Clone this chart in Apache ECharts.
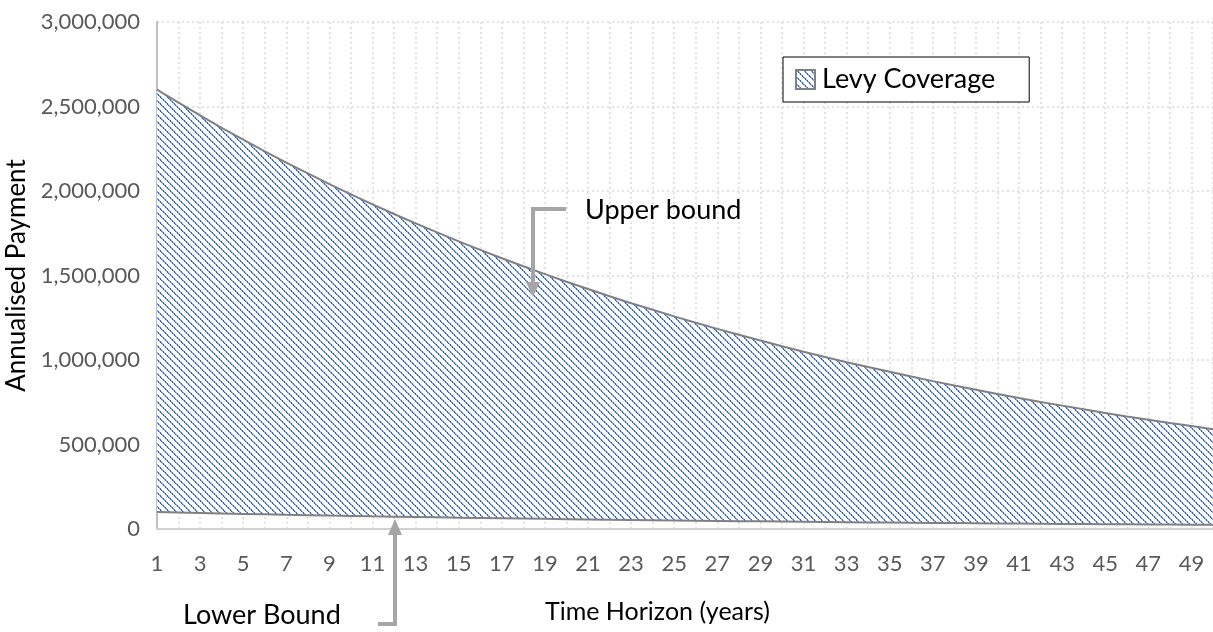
<!DOCTYPE html>
<html>
<head>
<meta charset="utf-8">
<script src="https://cdn.jsdelivr.net/npm/echarts@6/dist/echarts.min.js"></script>
<style>
html,body{margin:0;padding:0;background:#fff;}
#chart{width:1213px;height:632px;}
</style>
</head>
<body>
<div id="chart"></div>
<script>
const categories = ['1','2','3','4','5','6','7','8','9','10','11','12','13','14','15','16','17','18','19','20','21','22','23','24','25','26','27','28','29','30','31','32','33','34','35','36','37','38','39','40','41','42','43','44','45','46','47','48','49','50'];
const upperBound = [2600000,2523000,2447000,2374000,2304000,2235000,2168000,2104000,2041000,1980000,
  1921000,1864000,1808000,1755000,1702000,1652000,1602000,1555000,1508000,1463000,
  1420000,1377000,1336000,1297000,1258000,1220000,1184000,1149000,1115000,1081000,
  1049000,1018000,987000,958000,930000,902000,875000,849000,824000,799000,
  775000,752000,730000,708000,687000,666000,647000,627000,609000,590000];
const lowerBound = [100000,97200,94500,91800,89300,86800,84300,82000,79700,77500,
  75300,73200,71100,69100,67200,65300,63500,61700,60000,58300,
  56700,55100,53500,52000,50600,49200,47800,46500,45200,43900,
  42700,41500,40300,39200,38100,37000,36000,35000,34000,33000,
  32100,31200,30300,29500,28700,27900,27100,26300,25600,24900];
const seriesName = 'Levy Coverage';
const yTicks = {min: 0, max: 3000000, interval: 500000};

// hatch pattern
function makeHatch(){
  const s = 7;
  const c = document.createElement('canvas');
  c.width = s; c.height = s;
  const g = c.getContext('2d');
  g.fillStyle = '#ffffff';
  g.fillRect(0,0,s,s);
  for (let y=0;y<s;y++){
    for (let x=0;x<s;x++){
      const d = ((x - y) % s + s) % s;
      if (d === 0){ g.fillStyle = (y % 2 === 0) ? '#2f62c8' : '#86a4e2'; g.fillRect(x,y,1,1); }
      else if (d === 1){ g.fillStyle = (y % 2 === 0) ? '#8fabe6' : '#3568cc'; g.fillRect(x,y,1,1); }
    }
  }
  return c;
}
const hatch = {image: makeHatch(), repeat: 'repeat'};

const band = upperBound.map((u,i)=>u - lowerBound[i]);
const FONT = 'Lato, "Open Sans", sans-serif';

const chart = echarts.init(document.getElementById('chart'));
chart.setOption({
  animation: false,
  backgroundColor: '#ffffff',
  grid: {left: 157, right: 0, top: 22, bottom: 103, containLabel: false, outerBoundsMode: 'none'},
  legend: {
    show: true,
    left: 783, top: 57,
    padding: [9, 34, 9, 12],
    backgroundColor: '#ffffff',
    borderColor: '#000000', borderWidth: 1, borderRadius: 0,
    itemWidth: 19, itemHeight: 19, itemGap: 8,
    textStyle: {fontFamily: FONT, fontSize: 27, color: '#000000', padding: [0, 0, 0, 2]},
    data: [{name: seriesName, icon: 'rect', itemStyle: {color: hatch, borderColor: '#808080', borderWidth: 2}}]
  },
  xAxis: {
    type: 'category',
    data: categories,
    boundaryGap: false,
    axisLine: {show: true, lineStyle: {color: '#d0d0d0', width: 2}},
    axisTick: {show: false},
    axisLabel: {interval: 1, color: '#595959', fontFamily: FONT, fontSize: 22, margin: 24},
    splitLine: {show: true, interval: 0, lineStyle: {color: '#d9d9d9', type: [2, 3], width: 1.5}}
  },
  yAxis: {
    type: 'value',
    min: yTicks.min, max: yTicks.max, interval: yTicks.interval,
    name: 'Annualised Payment',
    nameLocation: 'middle',
    nameGap: 120,
    nameTextStyle: {fontFamily: FONT, fontSize: 26, color: '#000000'},
    axisLine: {show: true, lineStyle: {color: '#bfbfbf', width: 2}},
    axisTick: {show: false},
    axisLabel: {color: '#595959', fontFamily: FONT, fontSize: 22, margin: 17,
      formatter: v => v.toLocaleString('en-US')},
    splitLine: {show: true, lineStyle: {color: '#d9d9d9', type: [2, 3], width: 1.5}}
  },
  series: [
    {
      name: 'Lower Bound', type: 'line', stack: 'band', data: lowerBound,
      symbol: 'none', z: 4,
      lineStyle: {color: '#808080', width: 2},
      itemStyle: {color: '#808080'}
    },
    {
      name: seriesName, type: 'line', stack: 'band', data: band,
      symbol: 'none', z: 3,
      lineStyle: {color: '#808080', width: 2},
      itemStyle: {color: '#4472c4'},
      areaStyle: {color: hatch, opacity: 1}
    }
  ],
  graphic: [
    {type: 'polyline', shape: {points: [[566,209],[533,209],[533,284]]}, style: {stroke: '#a6a6a6', lineWidth: 4, fill: null}, z: 10},
    {type: 'polygon', shape: {points: [[526,282],[540,282],[533,297]]}, style: {fill: '#a6a6a6'}, z: 10},
    {type: 'polyline', shape: {points: [[378,624],[395,624],[395,533]]}, style: {stroke: '#a6a6a6', lineWidth: 4, fill: null}, z: 10},
    {type: 'polygon', shape: {points: [[388,535],[402,535],[395,519]]}, style: {fill: '#a6a6a6'}, z: 10},
    {type: 'text', left: 585, top: 197, style: {text: 'Upper bound', font: '27px ' + FONT, fill: '#000000'}, z: 10},
    {type: 'text', left: 183, top: 602, style: {text: 'Lower Bound', font: '27px ' + FONT, fill: '#000000'}, z: 10},
    {type: 'text', left: 545, top: 599, style: {text: 'Time Horizon (years)', font: '25px ' + FONT, fill: '#000000'}, z: 10}
  ]
});
</script>
</body>
</html>
